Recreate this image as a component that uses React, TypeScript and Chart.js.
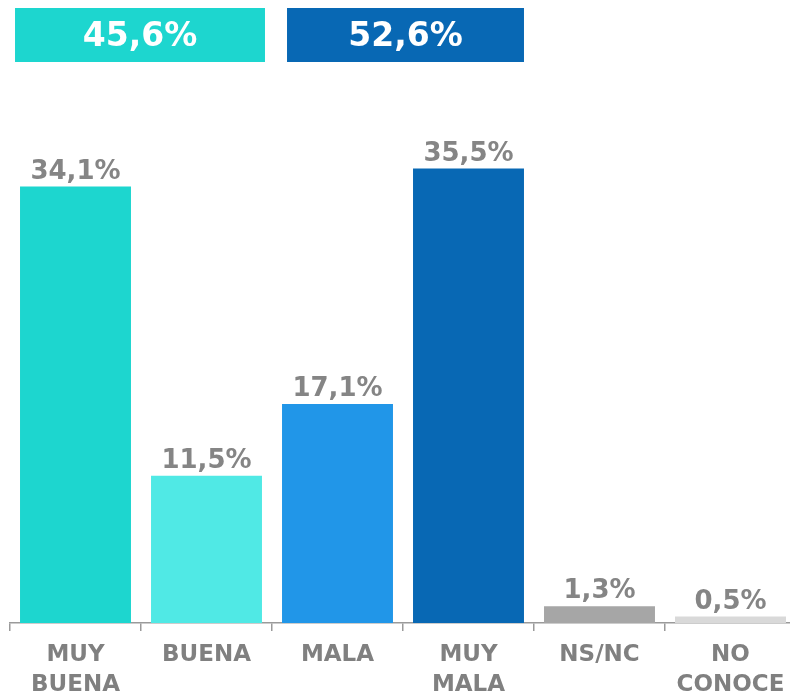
import React, { useEffect, useRef } from "react";
import { Chart, registerables } from "chart.js";

Chart.register(...registerables);

const categories: string[][] = [["MUY", "BUENA"], ["BUENA"], ["MALA"], ["MUY", "MALA"], ["NS/NC"], ["NO", "CONOCE"]];
const values: number[] = [34.1, 11.5, 17.1, 35.5, 1.3, 0.5];
const valueLabels: string[] = ["34,1%", "11,5%", "17,1%", "35,5%", "1,3%", "0,5%"];
const barColors: string[] = ["#1dd6cf", "#50e9e5", "#2196e8", "#0868b4", "#a6a6a6", "#d9d9d9"];
const groupLabels: string[] = ["45,6%", "52,6%"];
const groupColors: string[] = ["#1dd6cf", "#0868b4"];

const FONT = "'DejaVu Sans', sans-serif";

const labelsPlugin = {
  id: "labelsPlugin",
  afterDatasetsDraw(chart: any) {
    const ctx = chart.ctx;
    const meta = chart.getDatasetMeta(0);
    ctx.save();
    ctx.font = `bold 26px ${FONT}`;
    ctx.fillStyle = "#858585";
    ctx.textAlign = "center";
    ctx.textBaseline = "alphabetic";
    meta.data.forEach((bar: any, i: number) => {
      ctx.fillText(valueLabels[i], bar.x, bar.y - 8);
    });
    const b = meta.data;
    const boxes = [
      { l: b[0].x - b[0].width / 2 - 5, r: b[1].x + b[1].width / 2 + 3 },
      { l: b[2].x - b[2].width / 2 + 5, r: b[3].x + b[3].width / 2 },
    ];
    boxes.forEach((bx, i) => {
      ctx.fillStyle = groupColors[i];
      ctx.fillRect(bx.l, 8, bx.r - bx.l, 54);
      ctx.fillStyle = "#ffffff";
      ctx.font = `bold 33px ${FONT}`;
      ctx.textBaseline = "middle";
      ctx.fillText(groupLabels[i], (bx.l + bx.r) / 2, 37);
    });
    ctx.restore();
  },
};

export default function App() {
  const ref = useRef<HTMLCanvasElement>(null);
  useEffect(() => {
    if (!ref.current) return;
    const chart = new Chart(ref.current, {
      type: "bar",
      data: {
        labels: categories,
        datasets: [
          {
            data: values,
            backgroundColor: barColors,
            categoryPercentage: 1,
            barPercentage: 0.847,
          },
        ],
      },
      options: {
        animation: false,
        responsive: false,
        layout: { padding: { left: 10, right: 4, top: 111, bottom: 0 } },
        plugins: { legend: { display: false }, tooltip: { enabled: false } },
        scales: {
          y: { display: false, min: 0, max: 40 },
          x: {
            afterFit: (scale: any) => {
              scale.height = 73;
            },
            grid: {
              display: true,
              drawOnChartArea: false,
              drawTicks: true,
              tickLength: 8,
              color: "#9a9a9a",
              lineWidth: 1.5,
              offset: true,
            },
            border: { display: true, color: "#9a9a9a", width: 1.5 },
            ticks: {
              color: "#808080",
              font: { family: FONT, weight: "bold", size: 23, lineHeight: 1.3 },
              padding: 9,
              maxRotation: 0,
              autoSkip: false,
            },
          },
        },
      },
      plugins: [labelsPlugin],
    });
    return () => chart.destroy();
  }, []);
  return (
    <div style={{ position: "fixed", left: 0, top: 0, width: 790, height: 696, overflow: "hidden", background: "#fff" }}>
      <canvas ref={ref} width={800} height={696} style={{ display: "block" }} />
    </div>
  );
}
